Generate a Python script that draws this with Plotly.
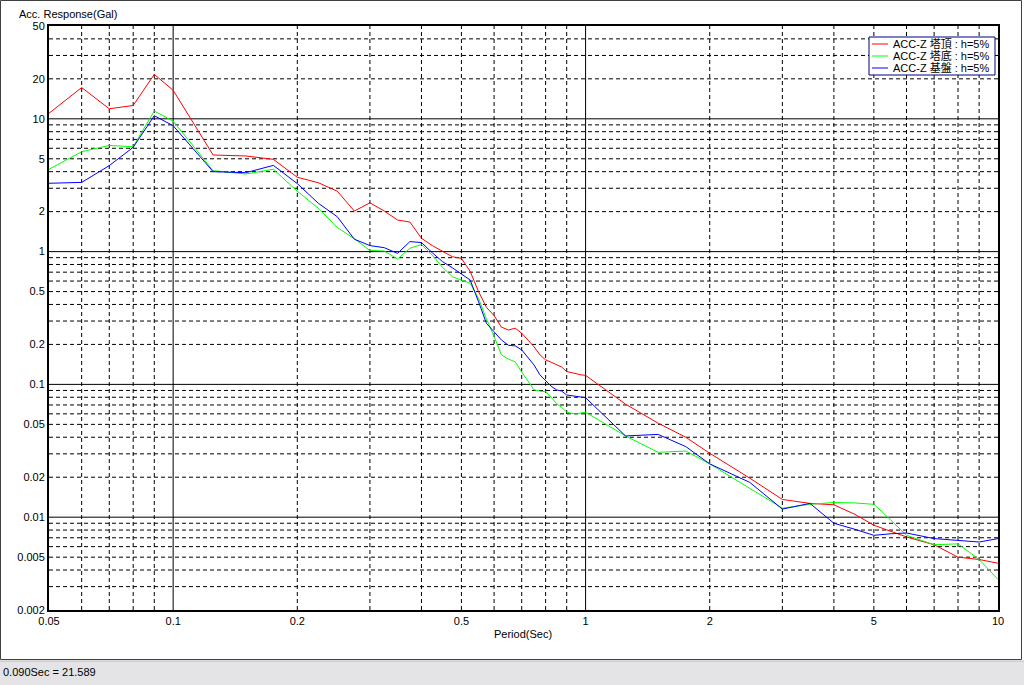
import plotly.graph_objects as go

# ---------------- data ----------------
periods = [0.05, 0.06, 0.07, 0.08, 0.09, 0.1, 0.125, 0.15, 0.175, 0.2, 0.225, 0.25, 0.275, 0.3,
           0.325, 0.35, 0.375, 0.4, 0.425, 0.45, 0.475, 0.5, 0.525, 0.55, 0.575, 0.6, 0.625,
           0.65, 0.675, 0.7, 0.725, 0.75, 0.775, 0.8, 0.825, 0.85, 0.875, 0.9, 0.925, 0.95,
           0.975, 1.0, 1.25, 1.5, 1.75, 2.0, 2.5, 3.0, 3.5, 4.0, 4.5, 5.0, 5.5, 6.0, 7.0, 8.0,
           9.0, 10.0]

acc_top = [11.0, 17.2, 11.9, 12.6, 21.589, 16.4, 5.34, 5.25, 4.95, 3.63, 3.3, 2.85, 2.02, 2.33,
           2.02, 1.73, 1.67, 1.26, 1.11, 1.01, 0.915, 0.89, 0.71, 0.5, 0.38, 0.33, 0.27,
           0.257, 0.265, 0.243, 0.216, 0.192, 0.167, 0.153, 0.147, 0.141, 0.135, 0.125, 0.122, 0.12,
           0.118, 0.117, 0.071, 0.051, 0.04, 0.0303, 0.0197, 0.0136, 0.0127, 0.0124, 0.0105, 0.0087,
           0.0078, 0.0071, 0.0062, 0.005, 0.0048, 0.0045]

acc_bottom = [4.17, 5.65, 6.3, 6.16, 11.45, 9.6, 4.07, 3.84, 4.17, 2.85, 2.12, 1.52, 1.25, 1.02,
              1.01, 0.88, 1.06, 1.13, 0.94, 0.76, 0.647, 0.61, 0.577, 0.445, 0.31, 0.23, 0.167,
              0.155, 0.148, 0.124, 0.105, 0.091, 0.089, 0.088, 0.08, 0.072, 0.067, 0.062, 0.0605, 0.0598,
              0.061, 0.0617, 0.0409, 0.0308, 0.0315, 0.0252, 0.0165, 0.0117, 0.0125, 0.0129, 0.0128, 0.0125,
              0.0095, 0.0073, 0.0062, 0.0063, 0.0048, 0.0034]

acc_ground = [3.27, 3.32, 4.44, 6.1, 10.55, 8.87, 4.0, 3.93, 4.46, 3.25, 2.31, 1.83, 1.24, 1.11,
              1.07, 0.97, 1.19, 1.17, 0.98, 0.84, 0.756, 0.675, 0.611, 0.42, 0.288, 0.249, 0.216,
              0.197, 0.195, 0.182, 0.16, 0.14, 0.118, 0.106, 0.097, 0.091, 0.089, 0.0832, 0.082, 0.0819,
              0.0805, 0.0794, 0.0409, 0.042, 0.034, 0.0252, 0.0183, 0.0115, 0.0127, 0.009, 0.0081, 0.0073,
              0.0075, 0.0076, 0.0069, 0.0067, 0.0065, 0.0069]

series_names = ["ACC-Z 塔頂 : h=5%", "ACC-Z 塔底 : h=5%", "ACC-Z 基盤 : h=5%"]
series_values = [acc_top, acc_bottom, acc_ground]
series_colors = ["#ff0000", "#00ff00", "#0000ff"]

x_tick_vals = [0.05, 0.1, 0.2, 0.5, 1, 2, 5, 10]
x_tick_text = ["0.05", "0.1", "0.2", "0.5", "1", "2", "5", "10"]
y_tick_vals = [0.002, 0.005, 0.01, 0.02, 0.05, 0.1, 0.2, 0.5, 1, 2, 5, 10, 20, 50]
y_tick_text = ["0.002", "0.005", "0.01", "0.02", "0.05", "0.1", "0.2", "0.5", "1", "2", "5", "10", "20", "50"]

x_major_grid = [0.1, 1]
x_minor_grid = [0.06, 0.07, 0.08, 0.09, 0.2, 0.3, 0.4, 0.5, 0.6, 0.7, 0.8, 0.9,
                2, 3, 4, 5, 6, 7, 8, 9]
y_major_grid = [0.01, 0.1, 1, 10]
y_minor_grid = [0.003, 0.004, 0.005, 0.006, 0.007, 0.008, 0.009,
                0.02, 0.03, 0.04, 0.05, 0.06, 0.07, 0.08, 0.09,
                0.2, 0.3, 0.4, 0.5, 0.6, 0.7, 0.8, 0.9,
                2, 3, 4, 5, 6, 7, 8, 9, 20, 30, 40]

x_title = "Period(Sec)"
y_title = "Acc. Response(Gal)"
status_text = "0.090Sec = 21.589"

# ---------------- layout geometry ----------------
W, H = 1024, 685
ML, MR, MT, MB = 49, 26, 26, 75
PW, PH = W - ML - MR, H - MT - MB
FONT = "Liberation Sans, Arial, Noto Sans CJK JP, sans-serif"


def px_x(px):
    return (px - ML) / PW


def px_y(py):
    return (H - MB - py) / PH


fig = go.Figure()

for name, vals, col in zip(series_names, series_values, series_colors):
    fig.add_trace(go.Scatter(x=periods, y=vals, mode="lines", name=name,
                             line=dict(color=col, width=1), showlegend=False))

shapes = []
for xv in x_minor_grid:
    shapes.append(dict(type="line", xref="x", yref="y domain", x0=xv, x1=xv, y0=0, y1=1,
                       line=dict(color="black", width=1, dash="4px,3px"), layer="below"))
for xv in x_major_grid:
    shapes.append(dict(type="line", xref="x", yref="y domain", x0=xv, x1=xv, y0=0, y1=1,
                       line=dict(color="black", width=1), layer="below"))
for yv in y_minor_grid:
    shapes.append(dict(type="line", xref="x domain", yref="y", x0=0, x1=1, y0=yv, y1=yv,
                       line=dict(color="black", width=1, dash="4px,3px"), layer="below"))
for yv in y_major_grid:
    shapes.append(dict(type="line", xref="x domain", yref="y", x0=0, x1=1, y0=yv, y1=yv,
                       line=dict(color="black", width=1), layer="below"))

# window frame and status bar
shapes.append(dict(type="rect", xref="paper", yref="paper",
                   x0=px_x(0.5), x1=px_x(1021.5), y0=px_y(659.5), y1=px_y(0.5),
                   line=dict(color="#404040", width=1), fillcolor="rgba(0,0,0,0)", layer="below"))
shapes.append(dict(type="rect", xref="paper", yref="paper",
                   x0=px_x(0), x1=px_x(1024), y0=px_y(685), y1=px_y(661),
                   line=dict(width=0), fillcolor="#e4e4e6", layer="below"))
shapes.append(dict(type="line", xref="paper", yref="paper",
                   x0=px_x(0), x1=px_x(1024), y0=px_y(661), y1=px_y(661),
                   line=dict(color="#b8b8b8", width=1), layer="below"))

# legend box (drawn manually to match compact original)
LG_X0, LG_X1, LG_Y0, LG_Y1 = 869, 995, 37, 75
shapes.append(dict(type="rect", xref="paper", yref="paper",
                   x0=px_x(LG_X0), x1=px_x(LG_X1), y0=px_y(LG_Y1), y1=px_y(LG_Y0),
                   line=dict(color="#000080", width=1), fillcolor="white", layer="above"))
annotations = []
row_y = [44, 56, 68]
for i, (name, col) in enumerate(zip(series_names, series_colors)):
    shapes.append(dict(type="line", xref="paper", yref="paper",
                       x0=px_x(872), x1=px_x(888), y0=px_y(row_y[i]), y1=px_y(row_y[i]),
                       line=dict(color=col, width=1), layer="above"))
    annotations.append(dict(xref="paper", yref="paper", x=px_x(891), y=px_y(row_y[i]),
                            text=name, showarrow=False, xanchor="left", yanchor="middle",
                            font=dict(family=FONT, size=11, color="black")))

annotations.append(dict(xref="paper", yref="paper", x=px_x(17), y=px_y(14), text=y_title,
                        showarrow=False, xanchor="left", yanchor="middle",
                        font=dict(family=FONT, size=11, color="black")))
annotations.append(dict(xref="paper", yref="paper", x=px_x(523), y=px_y(634), text=x_title,
                        showarrow=False, xanchor="center", yanchor="middle",
                        font=dict(family=FONT, size=11, color="black")))
annotations.append(dict(xref="paper", yref="paper", x=px_x(1), y=px_y(672), text=status_text,
                        showarrow=False, xanchor="left", yanchor="middle",
                        font=dict(family=FONT, size=11, color="black")))

fig.update_layout(
    width=W, height=H,
    margin=dict(l=ML, r=MR, t=MT, b=MB, pad=0),
    paper_bgcolor="white", plot_bgcolor="white",
    shapes=shapes, annotations=annotations,
    font=dict(family=FONT, size=11, color="black"),
    xaxis=dict(type="log", range=[-1.30103, 1.0], tickvals=x_tick_vals, ticktext=x_tick_text,
               showgrid=False, zeroline=False, showline=True, mirror=True, linecolor="black",
               linewidth=2, ticks="", tickfont=dict(family=FONT, size=11)),
    yaxis=dict(type="log", range=[-2.69897, 1.69897], tickvals=y_tick_vals, ticktext=y_tick_text,
               showgrid=False, zeroline=False, showline=True, mirror=True, linecolor="black",
               linewidth=2, ticks="", tickfont=dict(family=FONT, size=11)),
    hovermode=False,
)

fig.write_html("out.html", config={"displayModeBar": False},
               post_script="document.body.style.margin='0';")
